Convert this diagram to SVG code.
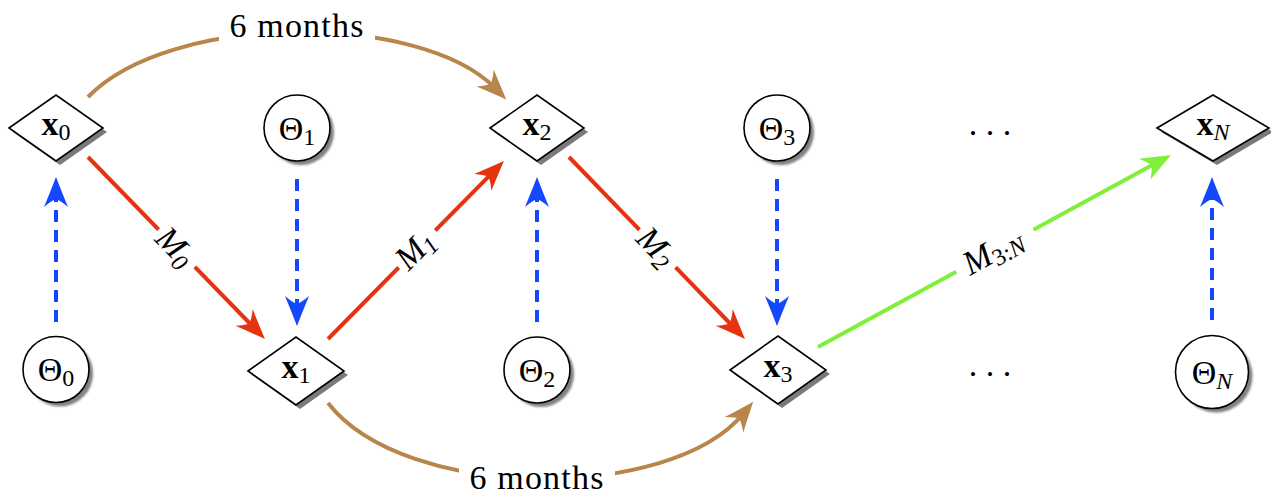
<svg xmlns="http://www.w3.org/2000/svg" width="1271" height="497" viewBox="0 0 1271 497">
<style>
  .txt{font-family:"Liberation Serif","Times New Roman",serif;font-size:34px;fill:#000}
  .sub{font-size:24px}
  .dia{fill:#fff;stroke:#000;stroke-width:1.6}
  .dsh{fill:#7a7a7a}
  .cir{fill:#fff;stroke:#000;stroke-width:1.6}
  .csh{fill:#808080;filter:url(#blur)}
  .red{fill:none;stroke:#e5330f;stroke-width:4}
  .brown{fill:none;stroke:#b8864b;stroke-width:4}
  .green{fill:none;stroke:#80ef3a;stroke-width:4}
  .blue{fill:none;stroke:#1448ff;stroke-width:4;stroke-dasharray:12 8}
  .lbl{fill:#fff;stroke:none}
</style>
<defs>
  <filter id="blur" x="-20%" y="-20%" width="140%" height="140%"><feGaussianBlur stdDeviation="1.2"/></filter>
  <marker id="hRed" markerUnits="userSpaceOnUse" viewBox="-16 -14 34 28" markerWidth="34" markerHeight="28" refX="0" refY="0" orient="auto"><path d="M16,0 Q3,-5 -14,-12 Q-8,-5 -6,0 Q-8,5 -14,12 Q3,5 16,0 Z" fill="#e5330f"/></marker>
  <marker id="hBrown" markerUnits="userSpaceOnUse" viewBox="-16 -14 34 28" markerWidth="34" markerHeight="28" refX="0" refY="0" orient="auto"><path d="M16,0 Q3,-5 -14,-12 Q-8,-5 -6,0 Q-8,5 -14,12 Q3,5 16,0 Z" fill="#b8864b"/></marker>
  <marker id="hGreen" markerUnits="userSpaceOnUse" viewBox="-16 -14 34 28" markerWidth="34" markerHeight="28" refX="0" refY="0" orient="auto"><path d="M16,0 Q3,-5 -14,-12 Q-8,-5 -6,0 Q-8,5 -14,12 Q3,5 16,0 Z" fill="#80ef3a"/></marker>
  <marker id="hBlue" markerUnits="userSpaceOnUse" viewBox="-16 -14 34 28" markerWidth="34" markerHeight="28" refX="0" refY="0" orient="auto"><path d="M16,0 Q3,-5 -14,-12 Q-8,-5 -6,0 Q-8,5 -14,12 Q3,5 16,0 Z" fill="#1448ff"/></marker>
</defs>
<rect width="1271" height="497" fill="#fff"/>

<g id="connectors">
  <path class="brown" d="M88,97 C170,12 420,12 495,88" marker-end="url(#hBrown)"/>
  <rect class="lbl" x="219" y="8" width="156" height="38"/>
  <text class="txt" x="297" y="37" text-anchor="middle" letter-spacing="1.2">6 months</text>
  <path class="brown" d="M328,403 C405,502 670,502 743,414" marker-end="url(#hBrown)"/>
  <rect class="lbl" x="459" y="459" width="156" height="38"/>
  <text class="txt" x="537" y="489" text-anchor="middle" letter-spacing="1.2">6 months</text>

  <path class="red" d="M88,157 L253.8,327.5" marker-end="url(#hRed)"/>
  <g transform="translate(176,249) rotate(45.8)">
    <rect class="lbl" x="-26" y="-18" width="52" height="36"/>
    <text class="txt" x="-2" y="10" text-anchor="middle" font-style="italic">M<tspan class="sub" dy="5">0</tspan></text>
  </g>
  <path class="red" d="M328,339 L492.7,172.4" marker-end="url(#hRed)"/>
  <g transform="translate(417,249) rotate(-45.3)">
    <rect class="lbl" x="-26" y="-18" width="52" height="36"/>
    <text class="txt" x="-2" y="10" text-anchor="middle" font-style="italic">M<tspan class="sub" dy="5">1</tspan></text>
  </g>
  <path class="red" d="M569,157 L733.9,327.5" marker-end="url(#hRed)"/>
  <g transform="translate(657,249) rotate(46)">
    <rect class="lbl" x="-26" y="-18" width="52" height="36"/>
    <text class="txt" x="-2" y="10" text-anchor="middle" font-style="italic">M<tspan class="sub" dy="5">2</tspan></text>
  </g>
  <path class="green" d="M818,347 L1156.9,162.6" marker-end="url(#hGreen)"/>
  <g transform="translate(995,251) rotate(-28.5)">
    <rect class="lbl" x="-44" y="-18" width="88" height="36"/>
    <text class="txt" x="-2" y="10" text-anchor="middle"><tspan font-style="italic">M</tspan><tspan class="sub" dy="5">3:</tspan><tspan class="sub" font-style="italic">N</tspan></text>
  </g>

  <path class="blue" d="M56,322 L56,193" marker-end="url(#hBlue)"/>
  <path class="blue" d="M297,179 L297,310" marker-end="url(#hBlue)"/>
  <path class="blue" d="M537,322 L537,193" marker-end="url(#hBlue)"/>
  <path class="blue" d="M777,179 L777,310" marker-end="url(#hBlue)"/>
  <path class="blue" d="M1212,320 L1212,193" marker-end="url(#hBlue)"/>
</g>

<g id="x0">
  <polygon class="dsh" points="13,132 60,99 107,132 60,165"/>
  <polygon class="dia" points="9,128 56,95 103,128 56,161"/>
  <text class="txt" x="56" y="135" text-anchor="middle"><tspan font-weight="bold">x</tspan><tspan class="sub" dy="5">0</tspan></text>
</g>
<g id="x1">
  <polygon class="dsh" points="252,375 300,341 348,375 300,409"/>
  <polygon class="dia" points="248,371 296,337 344,371 296,405"/>
  <text class="txt" x="296" y="378" text-anchor="middle"><tspan font-weight="bold">x</tspan><tspan class="sub" dy="5">1</tspan></text>
</g>
<g id="x2">
  <polygon class="dsh" points="494,132 541,99 588,132 541,165"/>
  <polygon class="dia" points="490,128 537,95 584,128 537,161"/>
  <text class="txt" x="537" y="135" text-anchor="middle"><tspan font-weight="bold">x</tspan><tspan class="sub" dy="5">2</tspan></text>
</g>
<g id="x3">
  <polygon class="dsh" points="734,374 782,340 830,374 782,408"/>
  <polygon class="dia" points="730,370 778,336 826,370 778,404"/>
  <text class="txt" x="778" y="377" text-anchor="middle"><tspan font-weight="bold">x</tspan><tspan class="sub" dy="5">3</tspan></text>
</g>
<g id="xN">
  <polygon class="dsh" points="1161,132 1217,99 1273,132 1217,165"/>
  <polygon class="dia" points="1157,128 1213,95 1269,128 1213,161"/>
  <text class="txt" x="1213" y="135" text-anchor="middle"><tspan font-weight="bold">x</tspan><tspan class="sub" dy="5" font-style="italic">N</tspan></text>
</g>

<g id="theta0">
  <circle class="csh" cx="60" cy="373.5" r="33"/>
  <circle class="cir" cx="56" cy="369.5" r="33"/>
  <text class="txt" x="56" y="381" text-anchor="middle">Θ<tspan class="sub" dy="5">0</tspan></text>
</g>
<g id="theta1">
  <circle class="csh" cx="301" cy="132" r="33"/>
  <circle class="cir" cx="297" cy="128" r="33"/>
  <text class="txt" x="297" y="140" text-anchor="middle">Θ<tspan class="sub" dy="5">1</tspan></text>
</g>
<g id="theta2">
  <circle class="csh" cx="541" cy="374" r="33"/>
  <circle class="cir" cx="537" cy="370" r="33"/>
  <text class="txt" x="537" y="382" text-anchor="middle">Θ<tspan class="sub" dy="5">2</tspan></text>
</g>
<g id="theta3">
  <circle class="csh" cx="781" cy="132" r="33"/>
  <circle class="cir" cx="777" cy="128" r="33"/>
  <text class="txt" x="777" y="140" text-anchor="middle">Θ<tspan class="sub" dy="5">3</tspan></text>
</g>
<g id="thetaN">
  <circle class="csh" cx="1216" cy="376" r="36.5"/>
  <circle class="cir" cx="1212" cy="372" r="36.5"/>
  <text class="txt" x="1212" y="384" text-anchor="middle">Θ<tspan class="sub" dy="5" font-style="italic">N</tspan></text>
</g>

<g id="dots-top">
  <text class="txt" x="990" y="135" text-anchor="middle">. . .</text>
</g>
<g id="dots-bottom">
  <text class="txt" x="990" y="376" text-anchor="middle">. . .</text>
</g>
</svg>
